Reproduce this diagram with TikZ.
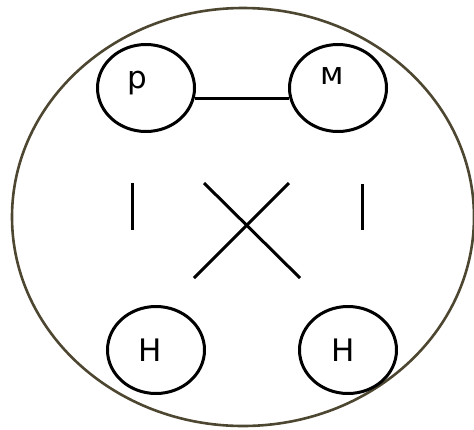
\documentclass[tikz,border=0pt]{standalone}
\usepackage{fontspec}
\setmainfont{DejaVu Sans}
\usetikzlibrary{shapes.geometric}
\definecolor{outerc}{RGB}{77,70,48}
\tikzset{
  atom/.style={draw=black, line width=3pt, ellipse, minimum width=97pt, minimum height=87pt, inner sep=0pt},
  lbl/.style={font=\fontsize{31}{33}\selectfont, inner sep=0pt},
  bond/.style={draw=black, line width=3pt}
}
\begin{document}
\begin{tikzpicture}[x=1pt,y=-1pt]
\useasboundingbox (0,0) rectangle (474,429);
\node[draw=outerc, line width=2.6pt, ellipse, minimum width=462pt, minimum height=418pt, inner sep=0pt] (outer) at (243,217) {};
\node[atom] (p) at (146,88) {};
\node[atom] (M) at (338,88) {};
\node[atom] (H1) at (156,350) {};
\node[atom] (H2) at (348,350) {};
\node[lbl] (pl) at (137,83) {p};
\node[lbl] (Ml) at (332,76) {м};
\node[lbl] (H1l) at (150,350) {H};
\node[lbl] (H2l) at (343,350) {H};
\draw[bond] (p.-12) -- (M.192);
\coordinate (b1a) at (132,183); \coordinate (b1b) at (132,230);
\coordinate (b2a) at (362,184); \coordinate (b2b) at (362,230);
\coordinate (x1a) at (204,183); \coordinate (x1b) at (300,278);
\coordinate (x2a) at (289,183); \coordinate (x2b) at (194,278);
\draw[bond] (b1a) -- (b1b);
\draw[bond] (b2a) -- (b2b);
\draw[bond] (x1a) -- (x1b);
\draw[bond] (x2a) -- (x2b);
\end{tikzpicture}
\end{document}
